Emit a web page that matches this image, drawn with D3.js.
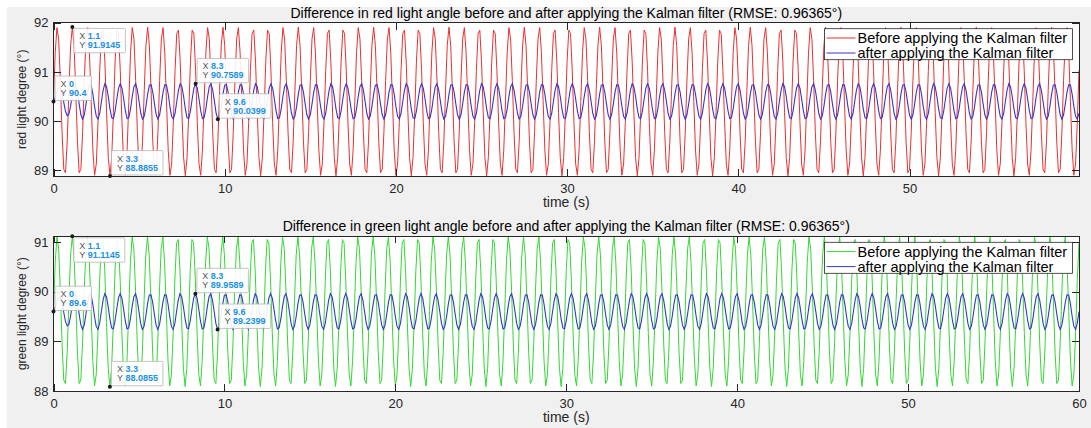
<!DOCTYPE html>
<html>
<head>
<meta charset="utf-8">
<script src="https://cdn.jsdelivr.net/npm/d3@7"></script>
<style>
  html, body { margin: 0; padding: 0; background: #fff; }
  svg { display: block; font-family: "Liberation Sans", Arial, sans-serif; }
</style>
</head>
<body>
<svg id="chart"></svg>
<script>
//Data - samples every 0.1 s
const sampleStep = 0.1;

const redBefore = [
90.40,91.39,91.90,91.67,90.83,89.77,89.02,88.95,89.58,90.62,91.54,91.91,91.54,90.62,89.58,88.95,89.02,89.77,90.83,91.67,91.90,91.39,
90.40,89.41,88.90,89.13,89.97,91.03,91.78,91.85,91.22,90.18,89.26,88.89,89.26,90.18,91.22,91.85,91.78,91.03,89.97,89.13,88.90,89.41,
90.40,91.39,91.90,91.67,90.83,89.77,89.02,88.95,89.58,90.62,91.54,91.91,91.54,90.62,89.58,88.95,89.02,89.77,90.83,91.67,91.90,91.39,
90.40,89.41,88.90,89.13,89.97,91.03,91.78,91.85,91.22,90.18,89.26,88.89,89.26,90.18,91.22,91.85,91.78,91.03,89.97,89.13,88.90,89.41,
90.40,91.39,91.90,91.67,90.83,89.77,89.02,88.95,89.58,90.62,91.54,91.91,91.54,90.62,89.58,88.95,89.02,89.77,90.83,91.67,91.90,91.39,
90.40,89.41,88.90,89.13,89.97,91.03,91.78,91.85,91.22,90.18,89.26,88.89,89.26,90.18,91.22,91.85,91.78,91.03,89.97,89.13,88.90,89.41,
90.40,91.39,91.90,91.67,90.83,89.77,89.02,88.95,89.58,90.62,91.54,91.91,91.54,90.62,89.58,88.95,89.02,89.77,90.83,91.67,91.90,91.39,
90.40,89.41,88.90,89.13,89.97,91.03,91.78,91.85,91.22,90.18,89.26,88.89,89.26,90.18,91.22,91.85,91.78,91.03,89.97,89.13,88.90,89.41,
90.40,91.39,91.90,91.67,90.83,89.77,89.02,88.95,89.58,90.62,91.54,91.91,91.54,90.62,89.58,88.95,89.02,89.77,90.83,91.67,91.90,91.39,
90.40,89.41,88.90,89.13,89.97,91.03,91.78,91.85,91.22,90.18,89.26,88.89,89.26,90.18,91.22,91.85,91.78,91.03,89.97,89.13,88.90,89.41,
90.40,91.39,91.90,91.67,90.83,89.77,89.02,88.95,89.58,90.62,91.54,91.91,91.54,90.62,89.58,88.95,89.02,89.77,90.83,91.67,91.90,91.39,
90.40,89.41,88.90,89.13,89.97,91.03,91.78,91.85,91.22,90.18,89.26,88.89,89.26,90.18,91.22,91.85,91.78,91.03,89.97,89.13,88.90,89.41,
90.40,91.39,91.90,91.67,90.83,89.77,89.02,88.95,89.58,90.62,91.54,91.91,91.54,90.62,89.58,88.95,89.02,89.77,90.83,91.67,91.90,91.39,
90.40,89.41,88.90,89.13,89.97,91.03,91.78,91.85,91.22,90.18,89.26,88.89,89.26,90.18,91.22,91.85,91.78,91.03,89.97,89.13,88.90,89.41,
90.40,91.39,91.90,91.67,90.83,89.77,89.02,88.95,89.58,90.62,91.54,91.91,91.54,90.62,89.58,88.95,89.02,89.77,90.83,91.67,91.90,91.39,
90.40,89.41,88.90,89.13,89.97,91.03,91.78,91.85,91.22,90.18,89.26,88.89,89.26,90.18,91.22,91.85,91.78,91.03,89.97,89.13,88.90,89.41,
90.40,91.39,91.90,91.67,90.83,89.77,89.02,88.95,89.58,90.62,91.54,91.91,91.54,90.62,89.58,88.95,89.02,89.77,90.83,91.67,91.90,91.39,
90.40,89.41,88.90,89.13,89.97,91.03,91.78,91.85,91.22,90.18,89.26,88.89,89.26,90.18,91.22,91.85,91.78,91.03,89.97,89.13,88.90,89.41,
90.40,91.39,91.90,91.67,90.83,89.77,89.02,88.95,89.58,90.62,91.54,91.91,91.54,90.62,89.58,88.95,89.02,89.77,90.83,91.67,91.90,91.39,
90.40,89.41,88.90,89.13,89.97,91.03,91.78,91.85,91.22,90.18,89.26,88.89,89.26,90.18,91.22,91.85,91.78,91.03,89.97,89.13,88.90,89.41,
90.40,91.39,91.90,91.67,90.83,89.77,89.02,88.95,89.58,90.62,91.54,91.91,91.54,90.62,89.58,88.95,89.02,89.77,90.83,91.67,91.90,91.39,
90.40,89.41,88.90,89.13,89.97,91.03,91.78,91.85,91.22,90.18,89.26,88.89,89.26,90.18,91.22,91.85,91.78,91.03,89.97,89.13,88.90,89.41,
90.40,91.39,91.90,91.67,90.83,89.77,89.02,88.95,89.58,90.62,91.54,91.91,91.54,90.62,89.58,88.95,89.02,89.77,90.83,91.67,91.90,91.39,
90.40,89.41,88.90,89.13,89.97,91.03,91.78,91.85,91.22,90.18,89.26,88.89,89.26,90.18,91.22,91.85,91.78,91.03,89.97,89.13,88.90,89.41,
90.40,91.39,91.90,91.67,90.83,89.77,89.02,88.95,89.58,90.62,91.54,91.91,91.54,90.62,89.58,88.95,89.02,89.77,90.83,91.67,91.90,91.39,
90.40,89.41,88.90,89.13,89.97,91.03,91.78,91.85,91.22,90.18,89.26,88.89,89.26,90.18,91.22,91.85,91.78,91.03,89.97,89.13,88.90,89.41,
90.40,91.39,91.90,91.67,90.83,89.77,89.02,88.95,89.58,90.62,91.54,91.91,91.54,90.62,89.58,88.95,89.02,89.77,90.83,91.67,91.90,91.39,
90.40,89.41,88.90,89.13,89.97,91.03
];

const redAfter = [
90.40,90.48,90.60,90.68,90.68,90.57,90.38,90.20,90.11,90.14,90.31,90.54,90.72,90.74,90.59,90.35,90.13,90.04,90.13,90.35,90.59,90.74,
90.73,90.55,90.30,90.10,90.04,90.16,90.40,90.63,90.76,90.70,90.50,90.25,90.07,90.05,90.21,90.45,90.67,90.76,90.67,90.45,90.21,90.05,
90.07,90.25,90.50,90.70,90.76,90.63,90.40,90.16,90.04,90.10,90.30,90.55,90.73,90.74,90.59,90.35,90.13,90.04,90.13,90.35,90.59,90.74,
90.73,90.55,90.30,90.10,90.04,90.16,90.40,90.63,90.76,90.70,90.50,90.25,90.07,90.05,90.21,90.45,90.67,90.76,90.67,90.45,90.21,90.05,
90.07,90.25,90.50,90.70,90.76,90.63,90.40,90.16,90.04,90.10,90.30,90.55,90.73,90.74,90.59,90.35,90.13,90.04,90.13,90.35,90.59,90.74,
90.73,90.55,90.30,90.10,90.04,90.16,90.40,90.63,90.76,90.70,90.50,90.25,90.07,90.05,90.21,90.45,90.67,90.76,90.67,90.45,90.21,90.05,
90.07,90.25,90.50,90.70,90.76,90.63,90.40,90.16,90.04,90.10,90.30,90.55,90.73,90.74,90.59,90.35,90.13,90.04,90.13,90.35,90.59,90.74,
90.73,90.55,90.30,90.10,90.04,90.16,90.40,90.63,90.76,90.70,90.50,90.25,90.07,90.05,90.21,90.45,90.67,90.76,90.67,90.45,90.21,90.05,
90.07,90.25,90.50,90.70,90.76,90.63,90.40,90.16,90.04,90.10,90.30,90.55,90.73,90.74,90.59,90.35,90.13,90.04,90.13,90.35,90.59,90.74,
90.73,90.55,90.30,90.10,90.04,90.16,90.40,90.63,90.76,90.70,90.50,90.25,90.07,90.05,90.21,90.45,90.67,90.76,90.67,90.45,90.21,90.05,
90.07,90.25,90.50,90.70,90.76,90.63,90.40,90.16,90.04,90.10,90.30,90.55,90.73,90.74,90.59,90.35,90.13,90.04,90.13,90.35,90.59,90.74,
90.73,90.55,90.30,90.10,90.04,90.16,90.40,90.63,90.76,90.70,90.50,90.25,90.07,90.05,90.21,90.45,90.67,90.76,90.67,90.45,90.21,90.05,
90.07,90.25,90.50,90.70,90.76,90.63,90.40,90.16,90.04,90.10,90.30,90.55,90.73,90.74,90.59,90.35,90.13,90.04,90.13,90.35,90.59,90.74,
90.73,90.55,90.30,90.10,90.04,90.16,90.40,90.63,90.76,90.70,90.50,90.25,90.07,90.05,90.21,90.45,90.67,90.76,90.67,90.45,90.21,90.05,
90.07,90.25,90.50,90.70,90.76,90.63,90.40,90.16,90.04,90.10,90.30,90.55,90.73,90.74,90.59,90.35,90.13,90.04,90.13,90.35,90.59,90.74,
90.73,90.55,90.30,90.10,90.04,90.16,90.40,90.63,90.76,90.70,90.50,90.25,90.07,90.05,90.21,90.45,90.67,90.76,90.67,90.45,90.21,90.05,
90.07,90.25,90.50,90.70,90.76,90.63,90.40,90.16,90.04,90.10,90.30,90.55,90.73,90.74,90.59,90.35,90.13,90.04,90.13,90.35,90.59,90.74,
90.73,90.55,90.30,90.10,90.04,90.16,90.40,90.63,90.76,90.70,90.50,90.25,90.07,90.05,90.21,90.45,90.67,90.76,90.67,90.45,90.21,90.05,
90.07,90.25,90.50,90.70,90.76,90.63,90.40,90.16,90.04,90.10,90.30,90.55,90.73,90.74,90.59,90.35,90.13,90.04,90.13,90.35,90.59,90.74,
90.73,90.55,90.30,90.10,90.04,90.16,90.40,90.63,90.76,90.70,90.50,90.25,90.07,90.05,90.21,90.45,90.67,90.76,90.67,90.45,90.21,90.05,
90.07,90.25,90.50,90.70,90.76,90.63,90.40,90.16,90.04,90.10,90.30,90.55,90.73,90.74,90.59,90.35,90.13,90.04,90.13,90.35,90.59,90.74,
90.73,90.55,90.30,90.10,90.04,90.16,90.40,90.63,90.76,90.70,90.50,90.25,90.07,90.05,90.21,90.45,90.67,90.76,90.67,90.45,90.21,90.05,
90.07,90.25,90.50,90.70,90.76,90.63,90.40,90.16,90.04,90.10,90.30,90.55,90.73,90.74,90.59,90.35,90.13,90.04,90.13,90.35,90.59,90.74,
90.73,90.55,90.30,90.10,90.04,90.16,90.40,90.63,90.76,90.70,90.50,90.25,90.07,90.05,90.21,90.45,90.67,90.76,90.67,90.45,90.21,90.05,
90.07,90.25,90.50,90.70,90.76,90.63,90.40,90.16,90.04,90.10,90.30,90.55,90.73,90.74,90.59,90.35,90.13,90.04,90.13,90.35,90.59,90.74,
90.73,90.55,90.30,90.10,90.04,90.16,90.40,90.63,90.76,90.70,90.50,90.25,90.07,90.05,90.21,90.45,90.67,90.76,90.67,90.45,90.21,90.05,
90.07,90.25,90.50,90.70,90.76,90.63,90.40,90.16,90.04,90.10,90.30,90.55,90.73,90.74,90.59,90.35,90.13,90.04,90.13,90.35,90.59,90.74,
90.73,90.55,90.30,90.10,90.04,90.16
];

const greenBefore = [
89.60,90.59,91.10,90.87,90.03,88.97,88.22,88.15,88.78,89.82,90.74,91.11,90.74,89.82,88.78,88.15,88.22,88.97,90.03,90.87,91.10,90.59,
89.60,88.61,88.10,88.33,89.17,90.23,90.98,91.05,90.42,89.38,88.46,88.09,88.46,89.38,90.42,91.05,90.98,90.23,89.17,88.33,88.10,88.61,
89.60,90.59,91.10,90.87,90.03,88.97,88.22,88.15,88.78,89.82,90.74,91.11,90.74,89.82,88.78,88.15,88.22,88.97,90.03,90.87,91.10,90.59,
89.60,88.61,88.10,88.33,89.17,90.23,90.98,91.05,90.42,89.38,88.46,88.09,88.46,89.38,90.42,91.05,90.98,90.23,89.17,88.33,88.10,88.61,
89.60,90.59,91.10,90.87,90.03,88.97,88.22,88.15,88.78,89.82,90.74,91.11,90.74,89.82,88.78,88.15,88.22,88.97,90.03,90.87,91.10,90.59,
89.60,88.61,88.10,88.33,89.17,90.23,90.98,91.05,90.42,89.38,88.46,88.09,88.46,89.38,90.42,91.05,90.98,90.23,89.17,88.33,88.10,88.61,
89.60,90.59,91.10,90.87,90.03,88.97,88.22,88.15,88.78,89.82,90.74,91.11,90.74,89.82,88.78,88.15,88.22,88.97,90.03,90.87,91.10,90.59,
89.60,88.61,88.10,88.33,89.17,90.23,90.98,91.05,90.42,89.38,88.46,88.09,88.46,89.38,90.42,91.05,90.98,90.23,89.17,88.33,88.10,88.61,
89.60,90.59,91.10,90.87,90.03,88.97,88.22,88.15,88.78,89.82,90.74,91.11,90.74,89.82,88.78,88.15,88.22,88.97,90.03,90.87,91.10,90.59,
89.60,88.61,88.10,88.33,89.17,90.23,90.98,91.05,90.42,89.38,88.46,88.09,88.46,89.38,90.42,91.05,90.98,90.23,89.17,88.33,88.10,88.61,
89.60,90.59,91.10,90.87,90.03,88.97,88.22,88.15,88.78,89.82,90.74,91.11,90.74,89.82,88.78,88.15,88.22,88.97,90.03,90.87,91.10,90.59,
89.60,88.61,88.10,88.33,89.17,90.23,90.98,91.05,90.42,89.38,88.46,88.09,88.46,89.38,90.42,91.05,90.98,90.23,89.17,88.33,88.10,88.61,
89.60,90.59,91.10,90.87,90.03,88.97,88.22,88.15,88.78,89.82,90.74,91.11,90.74,89.82,88.78,88.15,88.22,88.97,90.03,90.87,91.10,90.59,
89.60,88.61,88.10,88.33,89.17,90.23,90.98,91.05,90.42,89.38,88.46,88.09,88.46,89.38,90.42,91.05,90.98,90.23,89.17,88.33,88.10,88.61,
89.60,90.59,91.10,90.87,90.03,88.97,88.22,88.15,88.78,89.82,90.74,91.11,90.74,89.82,88.78,88.15,88.22,88.97,90.03,90.87,91.10,90.59,
89.60,88.61,88.10,88.33,89.17,90.23,90.98,91.05,90.42,89.38,88.46,88.09,88.46,89.38,90.42,91.05,90.98,90.23,89.17,88.33,88.10,88.61,
89.60,90.59,91.10,90.87,90.03,88.97,88.22,88.15,88.78,89.82,90.74,91.11,90.74,89.82,88.78,88.15,88.22,88.97,90.03,90.87,91.10,90.59,
89.60,88.61,88.10,88.33,89.17,90.23,90.98,91.05,90.42,89.38,88.46,88.09,88.46,89.38,90.42,91.05,90.98,90.23,89.17,88.33,88.10,88.61,
89.60,90.59,91.10,90.87,90.03,88.97,88.22,88.15,88.78,89.82,90.74,91.11,90.74,89.82,88.78,88.15,88.22,88.97,90.03,90.87,91.10,90.59,
89.60,88.61,88.10,88.33,89.17,90.23,90.98,91.05,90.42,89.38,88.46,88.09,88.46,89.38,90.42,91.05,90.98,90.23,89.17,88.33,88.10,88.61,
89.60,90.59,91.10,90.87,90.03,88.97,88.22,88.15,88.78,89.82,90.74,91.11,90.74,89.82,88.78,88.15,88.22,88.97,90.03,90.87,91.10,90.59,
89.60,88.61,88.10,88.33,89.17,90.23,90.98,91.05,90.42,89.38,88.46,88.09,88.46,89.38,90.42,91.05,90.98,90.23,89.17,88.33,88.10,88.61,
89.60,90.59,91.10,90.87,90.03,88.97,88.22,88.15,88.78,89.82,90.74,91.11,90.74,89.82,88.78,88.15,88.22,88.97,90.03,90.87,91.10,90.59,
89.60,88.61,88.10,88.33,89.17,90.23,90.98,91.05,90.42,89.38,88.46,88.09,88.46,89.38,90.42,91.05,90.98,90.23,89.17,88.33,88.10,88.61,
89.60,90.59,91.10,90.87,90.03,88.97,88.22,88.15,88.78,89.82,90.74,91.11,90.74,89.82,88.78,88.15,88.22,88.97,90.03,90.87,91.10,90.59,
89.60,88.61,88.10,88.33,89.17,90.23,90.98,91.05,90.42,89.38,88.46,88.09,88.46,89.38,90.42,91.05,90.98,90.23,89.17,88.33,88.10,88.61,
89.60,90.59,91.10,90.87,90.03,88.97,88.22,88.15,88.78,89.82,90.74,91.11,90.74,89.82,88.78,88.15,88.22,88.97,90.03,90.87,91.10,90.59,
89.60,88.61,88.10,88.33,89.17,90.23,90.98
];

const greenAfter = [
89.60,89.68,89.80,89.88,89.88,89.77,89.58,89.40,89.31,89.34,89.51,89.74,89.92,89.94,89.79,89.55,89.33,89.24,89.33,89.55,89.79,89.94,
89.93,89.75,89.50,89.30,89.24,89.36,89.60,89.83,89.96,89.90,89.70,89.45,89.27,89.25,89.41,89.65,89.87,89.96,89.87,89.65,89.41,89.25,
89.27,89.45,89.70,89.90,89.96,89.83,89.60,89.36,89.24,89.30,89.50,89.75,89.93,89.94,89.79,89.55,89.33,89.24,89.33,89.55,89.79,89.94,
89.93,89.75,89.50,89.30,89.24,89.36,89.60,89.83,89.96,89.90,89.70,89.45,89.27,89.25,89.41,89.65,89.87,89.96,89.87,89.65,89.41,89.25,
89.27,89.45,89.70,89.90,89.96,89.83,89.60,89.36,89.24,89.30,89.50,89.75,89.93,89.94,89.79,89.55,89.33,89.24,89.33,89.55,89.79,89.94,
89.93,89.75,89.50,89.30,89.24,89.36,89.60,89.83,89.96,89.90,89.70,89.45,89.27,89.25,89.41,89.65,89.87,89.96,89.87,89.65,89.41,89.25,
89.27,89.45,89.70,89.90,89.96,89.83,89.60,89.36,89.24,89.30,89.50,89.75,89.93,89.94,89.79,89.55,89.33,89.24,89.33,89.55,89.79,89.94,
89.93,89.75,89.50,89.30,89.24,89.36,89.60,89.83,89.96,89.90,89.70,89.45,89.27,89.25,89.41,89.65,89.87,89.96,89.87,89.65,89.41,89.25,
89.27,89.45,89.70,89.90,89.96,89.83,89.60,89.36,89.24,89.30,89.50,89.75,89.93,89.94,89.79,89.55,89.33,89.24,89.33,89.55,89.79,89.94,
89.93,89.75,89.50,89.30,89.24,89.36,89.60,89.83,89.96,89.90,89.70,89.45,89.27,89.25,89.41,89.65,89.87,89.96,89.87,89.65,89.41,89.25,
89.27,89.45,89.70,89.90,89.96,89.83,89.60,89.36,89.24,89.30,89.50,89.75,89.93,89.94,89.79,89.55,89.33,89.24,89.33,89.55,89.79,89.94,
89.93,89.75,89.50,89.30,89.24,89.36,89.60,89.83,89.96,89.90,89.70,89.45,89.27,89.25,89.41,89.65,89.87,89.96,89.87,89.65,89.41,89.25,
89.27,89.45,89.70,89.90,89.96,89.83,89.60,89.36,89.24,89.30,89.50,89.75,89.93,89.94,89.79,89.55,89.33,89.24,89.33,89.55,89.79,89.94,
89.93,89.75,89.50,89.30,89.24,89.36,89.60,89.83,89.96,89.90,89.70,89.45,89.27,89.25,89.41,89.65,89.87,89.96,89.87,89.65,89.41,89.25,
89.27,89.45,89.70,89.90,89.96,89.83,89.60,89.36,89.24,89.30,89.50,89.75,89.93,89.94,89.79,89.55,89.33,89.24,89.33,89.55,89.79,89.94,
89.93,89.75,89.50,89.30,89.24,89.36,89.60,89.83,89.96,89.90,89.70,89.45,89.27,89.25,89.41,89.65,89.87,89.96,89.87,89.65,89.41,89.25,
89.27,89.45,89.70,89.90,89.96,89.83,89.60,89.36,89.24,89.30,89.50,89.75,89.93,89.94,89.79,89.55,89.33,89.24,89.33,89.55,89.79,89.94,
89.93,89.75,89.50,89.30,89.24,89.36,89.60,89.83,89.96,89.90,89.70,89.45,89.27,89.25,89.41,89.65,89.87,89.96,89.87,89.65,89.41,89.25,
89.27,89.45,89.70,89.90,89.96,89.83,89.60,89.36,89.24,89.30,89.50,89.75,89.93,89.94,89.79,89.55,89.33,89.24,89.33,89.55,89.79,89.94,
89.93,89.75,89.50,89.30,89.24,89.36,89.60,89.83,89.96,89.90,89.70,89.45,89.27,89.25,89.41,89.65,89.87,89.96,89.87,89.65,89.41,89.25,
89.27,89.45,89.70,89.90,89.96,89.83,89.60,89.36,89.24,89.30,89.50,89.75,89.93,89.94,89.79,89.55,89.33,89.24,89.33,89.55,89.79,89.94,
89.93,89.75,89.50,89.30,89.24,89.36,89.60,89.83,89.96,89.90,89.70,89.45,89.27,89.25,89.41,89.65,89.87,89.96,89.87,89.65,89.41,89.25,
89.27,89.45,89.70,89.90,89.96,89.83,89.60,89.36,89.24,89.30,89.50,89.75,89.93,89.94,89.79,89.55,89.33,89.24,89.33,89.55,89.79,89.94,
89.93,89.75,89.50,89.30,89.24,89.36,89.60,89.83,89.96,89.90,89.70,89.45,89.27,89.25,89.41,89.65,89.87,89.96,89.87,89.65,89.41,89.25,
89.27,89.45,89.70,89.90,89.96,89.83,89.60,89.36,89.24,89.30,89.50,89.75,89.93,89.94,89.79,89.55,89.33,89.24,89.33,89.55,89.79,89.94,
89.93,89.75,89.50,89.30,89.24,89.36,89.60,89.83,89.96,89.90,89.70,89.45,89.27,89.25,89.41,89.65,89.87,89.96,89.87,89.65,89.41,89.25,
89.27,89.45,89.70,89.90,89.96,89.83,89.60,89.36,89.24,89.30,89.50,89.75,89.93,89.94,89.79,89.55,89.33,89.24,89.33,89.55,89.79,89.94,
89.93,89.75,89.50,89.30,89.24,89.36,89.60
];

//ticks and labels
const xTicks = [0, 10, 20, 30, 40, 50, 60];
const redYTicks = [89, 90, 91, 92];
const greenYTicks = [88, 89, 90, 91];
const legendLabels = ['Before applying the Kalman filter', 'after applying the Kalman filter'];

//data tips [time, value]
const redTips = [[0, 90.4], [1.1, 91.9145], [3.3, 88.8855], [8.3, 90.7589], [9.6, 90.0399]];
const greenTips = [[0, 89.6], [1.1, 91.1145], [3.3, 88.0855], [8.3, 89.9589], [9.6, 89.2399]];

window.addEventListener('DOMContentLoaded', () => {
    let width = 1091;
    let height = 428;
    let plotLeft = 53.5;
    let plotRight = 1079;
    let axisColor = '#262626';
    let afterColor = '#3535cc';

    let panels = [
        {
            title: 'Difference in red light angle before and after applying the Kalman filter (RMSE: 0.96365°)',
            ylabel: 'red light degree (°)',
            before: redBefore, after: redAfter, beforeColor: '#ec2f2f',
            xMax: 59.9, yDomain: [88.8855, 92], yTicks: redYTicks, tips: redTips,
            top: 22.7, bottom: 176
        },
        {
            title: 'Difference in green light angle before and after applying the Kalman filter (RMSE: 0.96365°)',
            ylabel: 'green light degree (°)',
            before: greenBefore, after: greenAfter, beforeColor: '#33d833',
            xMax: 60, yDomain: [88, 91.1145], yTicks: greenYTicks, tips: greenTips,
            top: 236.3, bottom: 391
        }
    ];

    let svg = d3.select('#chart')
        .attr('width', width)
        .attr('height', height);

    //figure background
    svg.append('rect')
        .attr('x', 7).attr('y', 7)
        .attr('width', width - 7).attr('height', height - 7)
        .attr('fill', '#f0f0f0');

    panels.forEach((p, k) => {
        let xScale = d3.scaleLinear().domain([0, p.xMax]).range([plotLeft, plotRight]);
        let yScale = d3.scaleLinear().domain(p.yDomain).range([p.bottom, p.top]);
        let g = svg.append('g');

        g.append('rect')
            .attr('x', plotLeft).attr('y', p.top)
            .attr('width', plotRight - plotLeft).attr('height', p.bottom - p.top)
            .attr('fill', '#fff');

        g.append('clipPath').attr('id', 'clip' + k)
            .append('rect')
            .attr('x', plotLeft).attr('y', p.top)
            .attr('width', plotRight - plotLeft).attr('height', p.bottom - p.top);

        let line = d3.line()
            .x((d, i) => xScale(i * sampleStep))
            .y(d => yScale(d));

        g.append('path')
            .datum(p.before)
            .attr('clip-path', 'url(#clip' + k + ')')
            .attr('fill', 'none')
            .attr('stroke', p.beforeColor)
            .attr('stroke-width', 1)
            .attr('d', line);

        g.append('path')
            .datum(p.after)
            .attr('clip-path', 'url(#clip' + k + ')')
            .attr('fill', 'none')
            .attr('stroke', afterColor)
            .attr('stroke-width', 1.1)
            .attr('d', line);

        //axes, ticks pointing inwards on all four sides
        let ticksX = xTicks.filter(t => t <= p.xMax);
        let styleAxis = a => {
            a.select('.domain').remove();
            a.attr('font-family', null).attr('font-size', 13).attr('color', axisColor);
            a.selectAll('line').attr('shape-rendering', 'crispEdges');
        };

        g.append('g')
            .attr('transform', 'translate(0,' + p.bottom + ')')
            .call(d3.axisBottom(xScale).tickValues(ticksX).tickFormat(d3.format('d'))
                .tickSizeInner(-7).tickSizeOuter(0).tickPadding(7.5))
            .call(styleAxis);
        g.append('g')
            .attr('transform', 'translate(0,' + p.top + ')')
            .call(d3.axisTop(xScale).tickValues(ticksX).tickSizeInner(-7).tickSizeOuter(0).tickFormat(() => ''))
            .call(styleAxis);
        g.append('g')
            .attr('transform', 'translate(' + plotLeft + ',0)')
            .call(d3.axisLeft(yScale).tickValues(p.yTicks).tickFormat(d3.format('d'))
                .tickSizeInner(-7).tickSizeOuter(0).tickPadding(5))
            .call(styleAxis);
        g.append('g')
            .attr('transform', 'translate(' + plotRight + ',0)')
            .call(d3.axisRight(yScale).tickValues(p.yTicks).tickSizeInner(-7).tickSizeOuter(0).tickFormat(() => ''))
            .call(styleAxis);

        g.append('rect')
            .attr('x', plotLeft).attr('y', p.top)
            .attr('width', plotRight - plotLeft).attr('height', p.bottom - p.top)
            .attr('fill', 'none')
            .attr('stroke', axisColor)
            .attr('stroke-width', 1)
            .attr('shape-rendering', 'crispEdges');

        //title and labels
        g.append('text')
            .attr('x', (plotLeft + plotRight) / 2)
            .attr('y', p.top - 5)
            .attr('text-anchor', 'middle')
            .attr('font-size', 14)
            .attr('fill', '#000')
            .text(p.title);

        g.append('text')
            .attr('x', (plotLeft + plotRight) / 2)
            .attr('y', p.bottom + 31)
            .attr('text-anchor', 'middle')
            .attr('font-size', 14)
            .attr('fill', axisColor)
            .text('time (s)');

        g.append('text')
            .attr('transform', 'translate(22,' + (p.top + p.bottom) / 2 + ') rotate(-90)')
            .attr('text-anchor', 'middle')
            .attr('dy', '0.35em')
            .attr('font-size', 12)
            .attr('fill', axisColor)
            .text(p.ylabel);

        //legend
        let legend = g.append('g')
            .attr('transform', 'translate(824.5,' + (p.top + 6) + ')');
        legend.append('rect')
            .attr('width', 248).attr('height', 31)
            .attr('fill', '#fff')
            .attr('stroke', axisColor)
            .attr('stroke-width', 0.8);
        legendLabels.forEach((label, i) => {
            let ly = 9.3 + i * 15;
            legend.append('line')
                .attr('x1', 2).attr('x2', 31)
                .attr('y1', ly).attr('y2', ly)
                .attr('stroke', i === 0 ? p.beforeColor : afterColor)
                .attr('stroke-width', 1);
            legend.append('text')
                .attr('x', 33).attr('y', ly)
                .attr('dy', '0.35em')
                .attr('font-size', 14.5)
                .attr('fill', '#000')
                .text(label);
        });

        //data tips
        p.tips.forEach(([tx, ty]) => {
            let mx = xScale(tx);
            let my = yScale(ty);
            let below = my - 26 < p.top;
            let tg = g.append('g');
            let box = tg.append('rect');
            let valX = tg.append('text').attr('font-size', 9).attr('font-weight', 'bold')
                .attr('fill', '#1a90e8').text(String(tx));
            let valY = tg.append('text').attr('font-size', 9).attr('font-weight', 'bold')
                .attr('fill', '#1a90e8').text(String(ty));
            let textW = Math.max(valX.node().getComputedTextLength(), valY.node().getComputedTextLength());
            let bw = 14 + textW + 5;
            let bh = 24.4;
            let bx = mx + 1.5;
            let by = below ? my + 1.5 : my - 1 - bh;
            box.attr('x', bx).attr('y', by)
                .attr('width', bw).attr('height', bh)
                .attr('rx', 1)
                .attr('fill', '#fff').attr('fill-opacity', 0.9)
                .attr('stroke', '#b4b4b4').attr('stroke-width', 0.8);
            valX.attr('x', bx + 14).attr('y', by + 11);
            valY.attr('x', bx + 14).attr('y', by + 20);
            ['X', 'Y'].forEach((c, i) => {
                tg.append('text')
                    .attr('x', bx + 5.5).attr('y', by + 11 + i * 9)
                    .attr('font-size', 9)
                    .attr('fill', '#555')
                    .text(c);
            });
            tg.append('circle')
                .attr('cx', mx).attr('cy', my)
                .attr('r', 2)
                .attr('fill', '#1a1a1a');
        });
    });
});
</script>
</body>
</html>
